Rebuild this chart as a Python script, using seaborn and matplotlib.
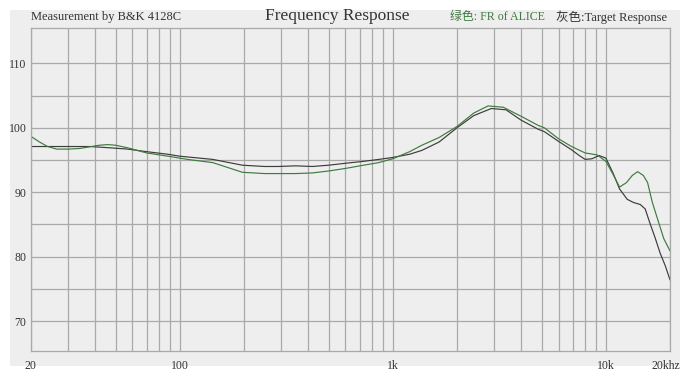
import matplotlib
matplotlib.use("Agg")
import matplotlib.pyplot as plt
import matplotlib.ticker as mticker
import matplotlib.transforms as mtransforms
from matplotlib.patches import Rectangle
import pandas as pd
import seaborn as sns

# =========================
# Дані
# =========================

target_freq = [20, 25, 30, 38, 47, 57, 70, 88, 100, 143, 197, 250, 290, 350, 420,
               500, 600, 730, 860, 1000, 1200, 1370, 1650, 2000, 2400, 2900, 3400,
               4000, 4800, 5150, 6000, 6900, 7500, 8000, 8600, 9300, 10000, 10800,
               11600, 12600, 13500, 14500, 15300, 16100, 17000, 18000, 19000, 20000]
target_db = [97.1, 97.1, 97.1, 97.1, 96.9, 96.7, 96.3, 95.9, 95.6, 95.1, 94.2, 94.0, 94.0, 94.1, 94.0,
             94.2, 94.5, 94.8, 95.1, 95.4, 95.9, 96.5, 97.8, 100.0, 101.9, 103.0, 102.8,
             101.2, 99.8, 99.4, 97.9, 96.6, 95.7, 95.1, 95.2, 95.7, 95.3, 93.0,
             90.5, 88.9, 88.4, 88.1, 87.4, 85.2, 83.0, 80.5, 78.6, 76.4]

alice_freq = [20, 22, 24, 26.5, 30, 34, 37, 42, 46, 50, 57, 70, 88, 109, 143, 197, 250,
              290, 350, 420, 500, 600, 730, 860, 1000, 1200, 1370, 1650, 2000, 2400,
              2800, 3300, 4000, 4800, 5150, 6000, 6900, 8000, 9100, 10000, 10800,
              11600, 12500, 13300, 14100, 15000, 15700, 16500, 17500, 18700, 20000]
alice_db = [98.7, 97.8, 97.1, 96.7, 96.7, 96.8, 97.0, 97.3, 97.4, 97.3, 96.9, 96.1, 95.6, 95.1, 94.6, 93.1, 92.9,
            92.9, 92.9, 93.0, 93.3, 93.7, 94.2, 94.6, 95.2, 96.3, 97.3, 98.5, 100.2, 102.3,
            103.4, 103.2, 101.8, 100.4, 100.0, 98.3, 97.1, 96.1, 95.8, 94.8, 92.8,
            90.8, 91.5, 92.6, 93.2, 92.6, 91.5, 88.5, 85.8, 82.8, 80.9]

x_ticks = [20, 100, 1000, 10000, 20000]
x_labels = ["20", "100", "1k", "10k", "20khz"]
y_ticks = [70, 80, 90, 100, 110]

df = pd.concat([
    pd.DataFrame({"freq": target_freq, "db": target_db, "curve": "target"}),
    pd.DataFrame({"freq": alice_freq, "db": alice_db, "curve": "alice"}),
])

BG = "#eeeeee"
GRID = "#a9a9a9"
GREEN = "#3f7a3f"
DARK = "#3c3c3c"
SERIF = ["Liberation Serif", "Noto Sans CJK SC"]

sns.set_theme(style="white")
plt.rcParams["font.family"] = SERIF

fig = plt.figure(figsize=(6.91, 3.77), dpi=100)
fig.patch.set_facecolor("white")
fig.patches.append(Rectangle((10 / 691, 1 - 366 / 377), 670 / 691, 356 / 377,
                             transform=fig.transFigure, facecolor=BG,
                             edgecolor="none", zorder=-10))

ax = fig.add_axes([30.7 / 691, 1 - 350.7 / 377, 639.3 / 691, 322.7 / 377])
ax.set_zorder(2)
ax.set_facecolor(BG)

sns.lineplot(data=df, x="freq", y="db", hue="curve", estimator=None, sort=False,
             palette={"target": DARK, "alice": GREEN}, linewidth=0.85,
             legend=False, ax=ax)

ax.set_xscale("log")
ax.set_xlim(20, 20000)
ax.set_ylim(65.4, 115.5)

ax.xaxis.set_major_locator(mticker.FixedLocator(x_ticks))
ax.xaxis.set_major_formatter(mticker.FixedFormatter(x_labels))
ax.xaxis.set_minor_locator(mticker.LogLocator(base=10, subs=range(2, 10), numticks=20))
ax.xaxis.set_minor_formatter(mticker.NullFormatter())
ax.yaxis.set_major_locator(mticker.FixedLocator(y_ticks))
ax.yaxis.set_minor_locator(mticker.FixedLocator([75, 85, 95, 105]))

ax.grid(True, which="both", color=GRID, linewidth=0.9)
ax.set_axisbelow(True)
ax.tick_params(which="both", length=0)
ax.tick_params(axis="x", pad=7, labelsize=8.5, labelcolor="#333333")
ax.tick_params(axis="y", pad=3, labelsize=8.5, labelcolor="#333333")
for s in ax.spines.values():
    s.set_color(GRID)
    s.set_linewidth(0.9)
ax.set_xlabel("")
ax.set_ylabel("")

# "20khz" трохи лівіше, як на оригіналі
last = ax.get_xticklabels()[-1]
last.set_transform(last.get_transform() + mtransforms.ScaledTranslation(-4 / 100, 0, fig.dpi_scale_trans))

fig.text(31 / 691, 1 - 17 / 377, "Measurement by B&K 4128C", fontsize=9,
         color="#333333", va="center", ha="left")
fig.text(337 / 691, 1 - 16 / 377, "Frequency Response", fontsize=12.5,
         color="#333333", va="center", ha="center")
fig.text(450 / 691, 1 - 17 / 377, "绿色: FR of ALICE", fontsize=8.6,
         color=GREEN, va="center", ha="left")
fig.text(556 / 691, 1 - 17 / 377, "灰色:Target Response", fontsize=9,
         color="#333333", va="center", ha="left")

fig.savefig("out.png", dpi=100)
